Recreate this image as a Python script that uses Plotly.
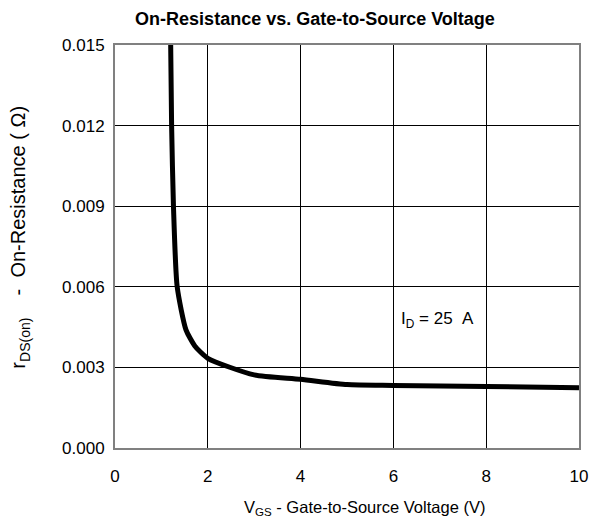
import plotly.graph_objects as go

vgs = [1.2, 1.22, 1.26, 1.34, 1.53, 1.72, 2.0, 3.0, 4.0, 5.0, 6.0, 8.0, 10.0]
rds = [0.0150, 0.0120, 0.0090, 0.0060, 0.0044, 0.0038, 0.00334, 0.00272, 0.00256, 0.00236, 0.00233, 0.00229, 0.00224]

x_ticks = [0, 2, 4, 6, 8, 10]
y_ticks = [0.000, 0.003, 0.006, 0.009, 0.012, 0.015]

font_family = "Liberation Sans, Arial, sans-serif"

fig = go.Figure()
fig.add_trace(go.Scatter(
    x=vgs, y=rds, mode="lines",
    line=dict(color="black", width=5, shape="spline", smoothing=0.6),
    showlegend=False, hoverinfo="skip",
))

fig.add_annotation(
    x=6.94, y=0.00476, xref="x", yref="y",
    text="I<sub>D</sub> = 25&nbsp;&nbsp;A",
    showarrow=False, bgcolor="white",
    font=dict(size=17, color="black", family=font_family),
    borderpad=3,
)

# axis titles
fig.add_annotation(
    x=0.537, y=0, xref="paper", yref="paper", yshift=-60,
    xanchor="center", yanchor="middle", showarrow=False,
    text="V<sub>GS</sub> - Gate-to-Source Voltage (V)",
    font=dict(size=16.5, color="black", family=font_family),
)
fig.add_annotation(
    x=0, y=0.522, xref="paper", yref="paper", xshift=-95,
    xanchor="center", yanchor="middle", showarrow=False, textangle=-90,
    text="r<sub>DS(on)</sub>&nbsp;&nbsp;&nbsp;&nbsp;-&nbsp;&nbsp;On-Resistance ( Ω)",
    font=dict(size=20, color="black", family=font_family),
)

fig.update_layout(
    width=597, height=516,
    margin=dict(l=107, r=26, t=37, b=76),
    paper_bgcolor="white", plot_bgcolor="white",
    font=dict(family=font_family, size=17, color="black"),
    title=dict(text="<b>On-Resistance vs. Gate-to-Source Voltage</b>",
               x=(315 - 8) / 597, xanchor="center", yref="container",
               y=1 - 11 / 516, yanchor="middle",
               font=dict(size=18, color="black")),
)

fig.update_xaxes(
    range=[0, 10], tickvals=x_ticks, ticktext=[str(v) for v in x_ticks],
    showgrid=True, gridcolor="black", gridwidth=1,
    showline=True, linecolor="#808080", linewidth=2, mirror=True,
    ticks="", zeroline=False, ticklabelstandoff=12,
    tickfont=dict(size=17),
)
fig.update_yaxes(
    range=[0, 0.015], tickvals=y_ticks, ticktext=[f"{v:.3f}" for v in y_ticks],
    showgrid=True, gridcolor="black", gridwidth=1,
    showline=True, linecolor="#808080", linewidth=2, mirror=True,
    ticks="", zeroline=False, ticklabelstandoff=5,
    tickfont=dict(size=17),
)

fig.write_html("out.html")
